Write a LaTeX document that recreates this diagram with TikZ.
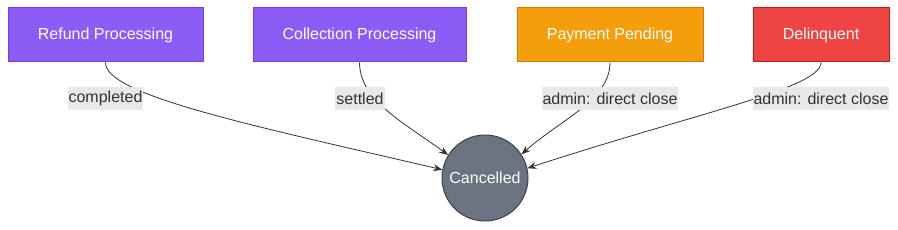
\documentclass[tikz,border=0pt]{standalone}
\usepackage{fontspec}
\setmainfont{Liberation Sans}
\usetikzlibrary{arrows.meta}
\definecolor{purplef}{HTML}{8B5CF6}
\definecolor{purpled}{HTML}{7C3AED}
\definecolor{orangef}{HTML}{F59E0B}
\definecolor{oranged}{HTML}{D97706}
\definecolor{redf}{HTML}{EF4444}
\definecolor{redd}{HTML}{B91C1C}
\definecolor{greyf}{HTML}{6B7280}
\definecolor{greyd}{HTML}{374151}
\definecolor{edgec}{HTML}{333333}
\definecolor{lblbg}{HTML}{E8E8E8}
\begin{document}
\begin{tikzpicture}[x=1pt,y=-1pt,
  font=\fontsize{16pt}{19pt}\selectfont,
  statebox/.style={draw, line width=1pt, minimum height=54pt, inner sep=0pt, text=white},
  endstate/.style={circle, draw=greyd, fill=greyf, line width=1pt, minimum size=86pt, inner sep=0pt, text=white},
  elabel/.style={fill=lblbg, text=edgec, inner xsep=1pt, inner ysep=0pt, minimum height=23pt},
  conn/.style={draw=edgec, line width=0.8pt, -{Stealth[length=9pt,width=7pt]}}]
\useasboundingbox (0,0) rectangle (898,230);
\node[statebox, fill=purplef, draw=purpled, minimum width=195pt] (refund) at (105.5,35) {Refund Processing};
\node[statebox, fill=purplef, draw=purpled, minimum width=213pt] (collect) at (359.5,35) {Collection Processing};
\node[statebox, fill=orangef, draw=oranged, minimum width=186pt] (payment) at (610,35) {Payment Pending};
\node[statebox, fill=redf, draw=redd, minimum width=136pt] (delinq) at (821,35) {Delinquent};
\node[endstate] (cancel) at (485,178) {Cancelled};
\draw[conn] (refund.south) .. controls (105,95) and (250,125) .. (cancel.169);
\draw[conn] (collect.south) .. controls (360,100) and (400,120) .. (cancel.148);
\draw[conn] (payment.south) .. controls (610,100) and (560,120) .. (cancel.33);
\draw[conn] (delinq.south) .. controls (821,88) and (700,112) .. (cancel.13);
\node[elabel] (l1) at (105.5,98.5) {completed};
\node[elabel] (l2) at (360,98.5) {settled};
\node[elabel] (l3) at (610,98.5) {admin: direct close};
\node[elabel] (l4) at (821,98.5) {admin: direct close};
\end{tikzpicture}
\end{document}
